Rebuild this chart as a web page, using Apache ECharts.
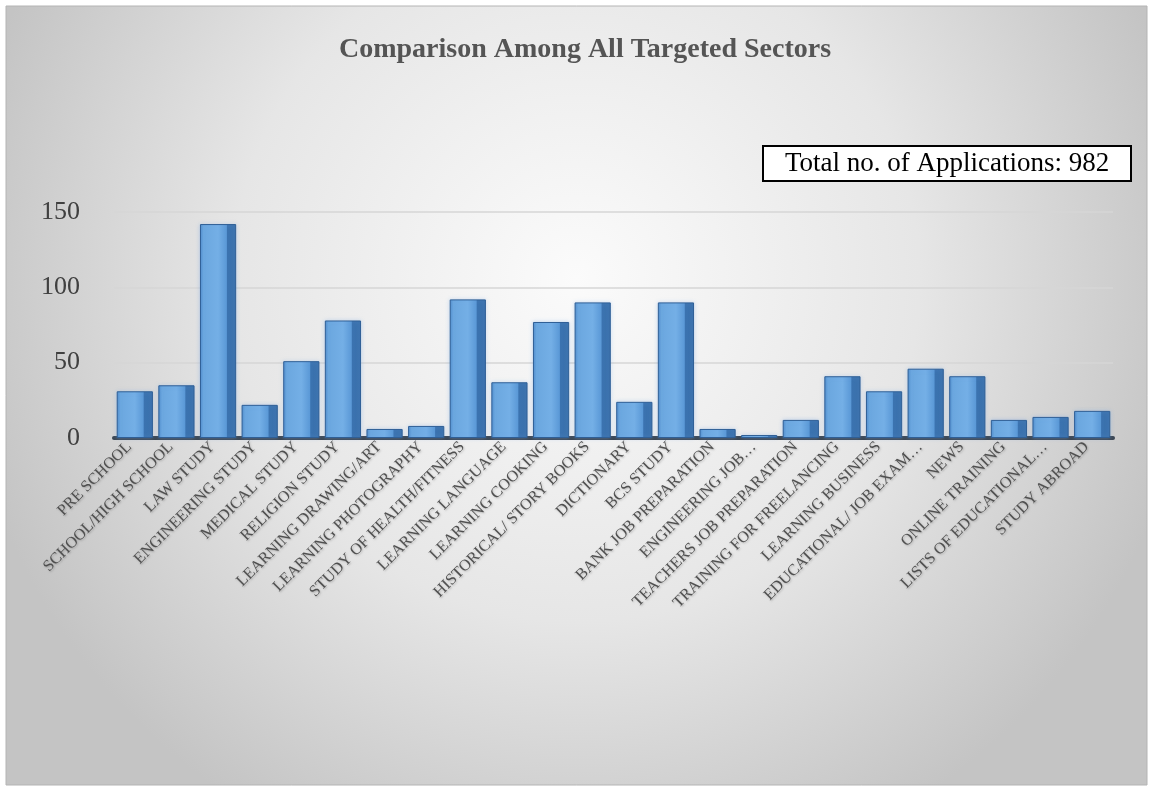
<!DOCTYPE html>
<html>
<head>
<meta charset="utf-8">
<script src="https://cdn.jsdelivr.net/npm/echarts@6/dist/echarts.min.js"></script>
<style>
  html, body { margin: 0; padding: 0; background: #fff; }
  #chart { width: 1153px; height: 791px; }
</style>
</head>
<body>
<div id="chart"></div>
<script>
// category labels as shown on the x axis
const sectors = [
  'PRE SCHOOL', 'SCHOOL/HIGH SCHOOL', 'LAW STUDY', 'ENGINEERING STUDY',
  'MEDICAL STUDY', 'RELIGION STUDY', 'LEARNING DRAWING/ART', 'LEARNING PHOTOGRAPHY',
  'STUDY OF HEALTH/FITNESS', 'LEARNING LANGUAGE', 'LEARNING COOKING', 'HISTORICAL/ STORY BOOKS',
  'DICTIONARY', 'BCS STUDY', 'BANK JOB PREPARATION', 'ENGINEERING JOB…',
  'TEACHERS JOB PREPARATION', 'TRAINING FOR FREELANCING', 'LEARNING BUSINESS', 'EDUCATIONAL/ JOB EXAM…',
  'NEWS', 'ONLINE TRAINING', 'LISTS OF EDUCATIONAL…', 'STUDY ABROAD'
]
// number of applications per sector
const applications = [
  31, 35, 142, 22,
  51, 78, 6, 8,
  92, 37, 77, 90,
  24, 90, 6, 2,
  12, 41, 31, 46,
  41, 12, 14, 18
]
const yTicks = [0, 50, 100, 150]
const chartTitle = 'Comparison Among All Targeted Sectors'
const totalNote = 'Total no. of Applications: 982'

const chart = echarts.init(document.getElementById('chart'))

// bar face: light front, darker right side for the 3D look
const barFill = new echarts.graphic.LinearGradient(0, 0, 1, 0, [
  { offset: 0, color: '#4d8bcb' },
  { offset: 0.1, color: '#6ba7df' },
  { offset: 0.5, color: '#74afe6' },
  { offset: 0.73, color: '#5b99d7' },
  { offset: 0.76, color: '#3b73b0' },
  { offset: 1, color: '#3a70ab' }
])

const option = {
  animation: false,
  graphic: [
    {
      type: 'rect',
      z: -10,
      silent: true,
      shape: { x: 6, y: 6, width: 1141, height: 779 },
      style: {
        fill: new echarts.graphic.RadialGradient(0.5, 0.35, 0.8, [
          { offset: 0, color: '#fbfbfb' },
          { offset: 0.55, color: '#e6e6e6' },
          { offset: 1, color: '#c4c4c4' }
        ]),
        stroke: '#b4b4b4',
        lineWidth: 1
      }
    }
  ],
  title: [
    {
      text: chartTitle,
      left: 580,
      top: 31,
      textAlign: 'center',
      textStyle: {
        fontFamily: 'Liberation Serif',
        fontWeight: 'bold',
        fontSize: 28,
        color: '#555555'
      }
    },
    {
      text: totalNote,
      left: 763,
      top: 146,
      padding: [4, 22, 4, 22],
      backgroundColor: '#ffffff',
      borderColor: '#000000',
      borderWidth: 2,
      textStyle: {
        fontFamily: 'Liberation Serif',
        fontWeight: 'normal',
        fontSize: 27,
        color: '#000000'
      }
    }
  ],
  grid: {
    left: 114,
    right: 40,
    top: 212,
    bottom: 353
  },
  xAxis: {
    type: 'category',
    data: sectors,
    axisTick: { show: false },
    axisLine: { lineStyle: { color: '#3b4653', width: 4 } },
    axisLabel: {
      interval: 0,
      rotate: 45,
      margin: 12,
      verticalAlign: 'bottom',
      fontFamily: 'Liberation Serif',
      fontSize: 16,
      color: '#4f4f4f',
      textShadowColor: 'rgba(0,0,0,0.25)',
      textShadowBlur: 2,
      textShadowOffsetX: 1,
      textShadowOffsetY: 1
    }
  },
  yAxis: {
    type: 'value',
    min: yTicks[0],
    max: yTicks[yTicks.length - 1],
    interval: 50,
    axisLine: { show: false },
    axisTick: { show: false },
    splitLine: { lineStyle: { color: '#d6d6d6', width: 1.5 } },
    axisLabel: {
      margin: 34,
      fontFamily: 'Liberation Serif',
      fontSize: 26,
      color: '#404040'
    }
  },
  series: [
    {
      type: 'bar',
      data: applications,
      barCategoryGap: '13%',
      itemStyle: {
        color: barFill,
        borderColor: '#2f5f96',
        borderWidth: 1,
        shadowColor: 'rgba(120,170,230,0.35)',
        shadowBlur: 4
      }
    }
  ]
}

chart.setOption(option)
</script>
</body>
</html>
